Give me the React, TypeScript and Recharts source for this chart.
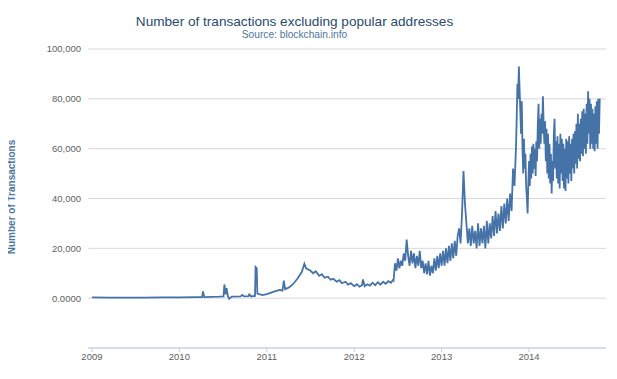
import React from 'react';
import { LineChart, Line, XAxis, YAxis, CartesianGrid } from 'recharts';

// Sparse readings, 2009 – mid 2012 (decimal year, transactions per day)
const earlyYears = [
  2009.0, 2009.2, 2009.4, 2009.6, 2009.8, 2010.0, 2010.2, 2010.26, 2010.27, 2010.285,
  2010.45, 2010.505, 2010.515, 2010.53, 2010.54, 2010.555, 2010.57, 2010.6, 2010.7, 2010.72,
  2010.74, 2010.79, 2010.8, 2010.82, 2010.865, 2010.872, 2010.885, 2010.892, 2010.95, 2011.0,
  2011.05, 2011.1, 2011.15, 2011.18, 2011.195, 2011.21, 2011.25, 2011.3, 2011.35, 2011.4,
  2011.43, 2011.45, 2011.5, 2011.53, 2011.56, 2011.6, 2011.63, 2011.66, 2011.7, 2011.73,
  2011.76, 2011.8, 2011.83, 2011.86, 2011.9, 2011.93, 2011.96, 2012.0, 2012.03, 2012.06,
  2012.09, 2012.1, 2012.12, 2012.15, 2012.18, 2012.21, 2012.24, 2012.27, 2012.3, 2012.33,
  2012.36, 2012.39, 2012.42, 2012.44,
];
const earlyValues = [
  300, 250, 200, 250, 300, 350, 400, 450, 2700, 450,
  600, 700, 5500, 1500, 4000, 800, -300, 600, 700, 1300,
  700, 800, 1500, 700, 900, 12500, 12000, 1800, 1200, 1600,
  2200, 2800, 3300, 3000, 7000, 3600, 4200, 5600, 7800, 10500,
  13800, 12000, 11000, 10000, 10800, 9000, 9600, 8200, 8600, 7400,
  7800, 6600, 7200, 6000, 6600, 5400, 6000, 4800, 5600, 4600,
  5200, 7500, 4800, 5600, 5000, 6200, 5200, 6400, 5400, 6600,
  5800, 6800, 6200, 7200,
];

// Readings mid 2012 – late 2013, one value every 1/60 year
const midStartYear = 2012.45;
const midStepYears = 1 / 60;
const midValues = [
  7000, 14000, 11000, 16000, 12000, 15000, 13000, 18000, 15000, 23500,
  17000, 13000, 19000, 14000, 18000, 12000, 17000, 13000, 19000, 12000,
  15000, 10000, 14000, 9500, 15000, 9000, 13000, 10000,
  16000, 11000, 17000, 12000, 18000, 13000, 19000, 13000, 20000, 14000,
  21000, 15000, 22000, 16000, 23000, 17000, 25000,
  28000, 22000, 34000, 51000, 38000,
  30000, 22000, 28000, 21000, 29000, 22000, 27000, 20000, 30000, 21000,
  28000, 22000, 29000, 20000, 31000, 22000, 30000,
  24000, 33000, 25000, 35000, 26000, 34000, 27000, 37000, 28000, 38000,
  30000, 40000, 31000, 42000,
  35000, 52000, 45000,
];

// Readings late 2013 – late 2014, one value every 1/120 year
const lateStartYear = 2013.85;
const lateStepYears = 1 / 120;
const lateValues = [
  60000, 72000, 86000, 80000, 93000, 84000, 75000, 66000, 79000, 60000,
  50000, 64000, 52000, 58000, 45000, 40000, 34000, 46000, 55000, 45000,
  58000, 48000, 61000, 50000, 62000, 52000, 60000, 49000, 63000, 55000,
  70000, 78000, 60000, 72000, 62000, 74000, 66000, 81000, 70000, 62000,
  71000, 55000, 68000, 50000, 66000, 48000, 62000, 46000, 58000, 42000,
  55000, 47000, 66000, 72000, 52000, 63000, 48000, 65000, 46000, 62000,
  44000, 66000, 50000, 64000, 47000, 62000, 44000, 60000, 43000, 64000,
  48000, 63000, 46000, 65000, 50000, 62000, 47000, 64000, 52000, 66000,
  50000, 67000, 54000, 70000, 52000, 74000, 56000, 70000, 55000, 72000,
  58000, 75000, 57000, 76000, 60000, 74000, 58000, 78000, 62000, 83000,
  66000, 80000, 60000, 78000, 62000, 76000, 60000, 74000, 59000, 77000,
  62000, 79000, 60000, 80000, 66000, 80000,
];

const yearTicks = [2009, 2010, 2011, 2012, 2013, 2014];
const valueTicks = [0, 20000, 40000, 60000, 80000, 100000];

const data = [
  ...earlyYears.map((t, i) => ({ t, v: earlyValues[i] })),
  ...midValues.map((v, i) => ({ t: midStartYear + i * midStepYears, v })),
  ...lateValues.map((v, i) => ({ t: lateStartYear + i * lateStepYears, v })),
];

const FONT = '"Liberation Sans", Arial, sans-serif';

const formatValue = (v: number) => (v === 0 ? '0.0000' : v.toLocaleString('en-US'));

export default function App() {
  return (
    <div style={{ position: 'relative', width: 617, height: 379, margin: -8, fontFamily: FONT, background: '#fff' }}>
      <div
        style={{
          position: 'absolute', left: 0, width: 589, top: 14, textAlign: 'center',
          fontSize: 13.6, color: '#274b6d', lineHeight: '16px', whiteSpace: 'nowrap',
        }}
      >
        Number of transactions excluding popular addresses
      </div>
      <div
        style={{
          position: 'absolute', left: 0, width: 589, top: 28.5, textAlign: 'center',
          fontSize: 10.2, color: '#4d759e', lineHeight: '12px', whiteSpace: 'nowrap',
        }}
      >
        Source: blockchain.info
      </div>
      <div style={{ position: 'absolute', left: 12, top: 197, width: 0, height: 0 }}>
        <div
          style={{
            position: 'absolute', transform: 'translate(-50%, -50%) rotate(-90deg)',
            fontSize: 10, fontWeight: 'bold', color: '#4d759e', whiteSpace: 'nowrap', lineHeight: '12px',
          }}
        >
          Number of Transactions
        </div>
      </div>
      <LineChart width={617} height={379} data={data} margin={{ top: 49, right: 11, bottom: 6, left: 28 }}>
        <CartesianGrid vertical={false} stroke="#d8d8d8" strokeWidth={1} />
        <XAxis
          dataKey="t"
          type="number"
          domain={[2008.955, 2014.88]}
          ticks={yearTicks}
          allowDataOverflow
          height={25}
          axisLine={{ stroke: '#C0D0E0' }}
          tickLine={{ stroke: '#C0D0E0' }}
          tickSize={4}
          tickMargin={1}
          tick={{ fill: '#606060', fontSize: 9.5, fontFamily: FONT }}
        />
        <YAxis
          type="number"
          domain={[-20000, 100000]}
          ticks={valueTicks}
          width={60}
          axisLine={false}
          tickLine={false}
          tickSize={0}
          tickMargin={7}
          tickFormatter={formatValue}
          tick={{ fill: '#606060', fontSize: 9.5, fontFamily: FONT }}
        />
        <Line
          type="linear"
          dataKey="v"
          stroke="#4572A7"
          strokeWidth={1.8}
          dot={false}
          isAnimationActive={false}
        />
      </LineChart>
    </div>
  );
}
